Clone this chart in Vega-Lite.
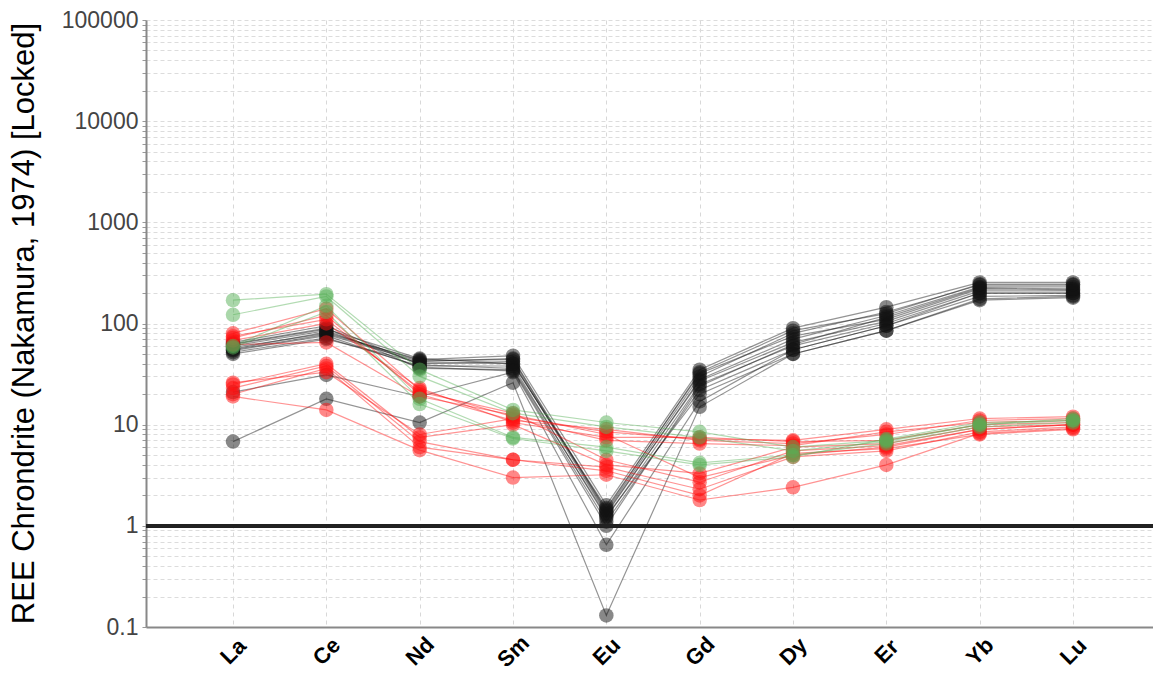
{
  "$schema": "https://vega.github.io/schema/vega-lite/v6.json",
  "autosize": "none",
  "width": 1014,
  "height": 607,
  "padding": {"left": 146, "top": 20, "right": 0, "bottom": 48},
  "background": "white",
  "config": {"view": {"stroke": null}, "font": "Liberation Sans"},
  "datasets": {
    "ree": [
      {"s":"B1","g":"black","el":"La","v":55},{"s":"B1","g":"black","el":"Ce","v":78},{"s":"B1","g":"black","el":"Nd","v":42},{"s":"B1","g":"black","el":"Sm","v":45},{"s":"B1","g":"black","el":"Eu","v":1.4},{"s":"B1","g":"black","el":"Gd","v":30},{"s":"B1","g":"black","el":"Dy","v":80},{"s":"B1","g":"black","el":"Er","v":130},{"s":"B1","g":"black","el":"Yb","v":240},{"s":"B1","g":"black","el":"Lu","v":240},
      {"s":"B2","g":"black","el":"La","v":60},{"s":"B2","g":"black","el":"Ce","v":85},{"s":"B2","g":"black","el":"Nd","v":40},{"s":"B2","g":"black","el":"Sm","v":42},{"s":"B2","g":"black","el":"Eu","v":1.3},{"s":"B2","g":"black","el":"Gd","v":28},{"s":"B2","g":"black","el":"Dy","v":70},{"s":"B2","g":"black","el":"Er","v":120},{"s":"B2","g":"black","el":"Yb","v":230},{"s":"B2","g":"black","el":"Lu","v":230},
      {"s":"B3","g":"black","el":"La","v":52},{"s":"B3","g":"black","el":"Ce","v":72},{"s":"B3","g":"black","el":"Nd","v":38},{"s":"B3","g":"black","el":"Sm","v":38},{"s":"B3","g":"black","el":"Eu","v":1.2},{"s":"B3","g":"black","el":"Gd","v":25},{"s":"B3","g":"black","el":"Dy","v":60},{"s":"B3","g":"black","el":"Er","v":100},{"s":"B3","g":"black","el":"Yb","v":200},{"s":"B3","g":"black","el":"Lu","v":200},
      {"s":"B4","g":"black","el":"La","v":58},{"s":"B4","g":"black","el":"Ce","v":80},{"s":"B4","g":"black","el":"Nd","v":44},{"s":"B4","g":"black","el":"Sm","v":48},{"s":"B4","g":"black","el":"Eu","v":1.6},{"s":"B4","g":"black","el":"Gd","v":35},{"s":"B4","g":"black","el":"Dy","v":90},{"s":"B4","g":"black","el":"Er","v":145},{"s":"B4","g":"black","el":"Yb","v":255},{"s":"B4","g":"black","el":"Lu","v":255},
      {"s":"B5","g":"black","el":"La","v":63},{"s":"B5","g":"black","el":"Ce","v":90},{"s":"B5","g":"black","el":"Nd","v":36},{"s":"B5","g":"black","el":"Sm","v":35},{"s":"B5","g":"black","el":"Eu","v":1.1},{"s":"B5","g":"black","el":"Gd","v":22},{"s":"B5","g":"black","el":"Dy","v":55},{"s":"B5","g":"black","el":"Er","v":95},{"s":"B5","g":"black","el":"Yb","v":185},{"s":"B5","g":"black","el":"Lu","v":190},
      {"s":"B6","g":"black","el":"La","v":50},{"s":"B6","g":"black","el":"Ce","v":70},{"s":"B6","g":"black","el":"Nd","v":41},{"s":"B6","g":"black","el":"Sm","v":40},{"s":"B6","g":"black","el":"Eu","v":1.5},{"s":"B6","g":"black","el":"Gd","v":32},{"s":"B6","g":"black","el":"Dy","v":75},{"s":"B6","g":"black","el":"Er","v":110},{"s":"B6","g":"black","el":"Yb","v":220},{"s":"B6","g":"black","el":"Lu","v":215},
      {"s":"B7","g":"black","el":"La","v":65},{"s":"B7","g":"black","el":"Ce","v":95},{"s":"B7","g":"black","el":"Nd","v":39},{"s":"B7","g":"black","el":"Sm","v":36},{"s":"B7","g":"black","el":"Eu","v":1.25},{"s":"B7","g":"black","el":"Gd","v":20},{"s":"B7","g":"black","el":"Dy","v":50},{"s":"B7","g":"black","el":"Er","v":85},{"s":"B7","g":"black","el":"Yb","v":170},{"s":"B7","g":"black","el":"Lu","v":180},
      {"s":"B8","g":"black","el":"La","v":56},{"s":"B8","g":"black","el":"Ce","v":82},{"s":"B8","g":"black","el":"Nd","v":43},{"s":"B8","g":"black","el":"Sm","v":44},{"s":"B8","g":"black","el":"Eu","v":1.35},{"s":"B8","g":"black","el":"Gd","v":27},{"s":"B8","g":"black","el":"Dy","v":65},{"s":"B8","g":"black","el":"Er","v":105},{"s":"B8","g":"black","el":"Yb","v":210},{"s":"B8","g":"black","el":"Lu","v":210},
      {"s":"B9","g":"black","el":"La","v":21},{"s":"B9","g":"black","el":"Ce","v":31},{"s":"B9","g":"black","el":"Nd","v":19},{"s":"B9","g":"black","el":"Sm","v":33},{"s":"B9","g":"black","el":"Eu","v":0.65},{"s":"B9","g":"black","el":"Gd","v":17},{"s":"B9","g":"black","el":"Dy","v":55},{"s":"B9","g":"black","el":"Er","v":95},{"s":"B9","g":"black","el":"Yb","v":200},{"s":"B9","g":"black","el":"Lu","v":200},
      {"s":"B10","g":"black","el":"La","v":6.8},{"s":"B10","g":"black","el":"Ce","v":18},{"s":"B10","g":"black","el":"Nd","v":10.5},{"s":"B10","g":"black","el":"Sm","v":26},{"s":"B10","g":"black","el":"Eu","v":0.13},{"s":"B10","g":"black","el":"Gd","v":15},{"s":"B10","g":"black","el":"Dy","v":50},{"s":"B10","g":"black","el":"Er","v":85},{"s":"B10","g":"black","el":"Yb","v":175},{"s":"B10","g":"black","el":"Lu","v":185},
      {"s":"B11","g":"black","el":"La","v":54},{"s":"B11","g":"black","el":"Ce","v":76},{"s":"B11","g":"black","el":"Nd","v":37},{"s":"B11","g":"black","el":"Sm","v":34},{"s":"B11","g":"black","el":"Eu","v":1.0},{"s":"B11","g":"black","el":"Gd","v":24},{"s":"B11","g":"black","el":"Dy","v":62},{"s":"B11","g":"black","el":"Er","v":115},{"s":"B11","g":"black","el":"Yb","v":225},{"s":"B11","g":"black","el":"Lu","v":220},
      {"s":"B12","g":"black","el":"La","v":62},{"s":"B12","g":"black","el":"Ce","v":88},{"s":"B12","g":"black","el":"Nd","v":45},{"s":"B12","g":"black","el":"Sm","v":40},{"s":"B12","g":"black","el":"Eu","v":1.45},{"s":"B12","g":"black","el":"Gd","v":33},{"s":"B12","g":"black","el":"Dy","v":85},{"s":"B12","g":"black","el":"Er","v":125},{"s":"B12","g":"black","el":"Yb","v":245},{"s":"B12","g":"black","el":"Lu","v":245},
      {"s":"R1","g":"red","el":"La","v":80},{"s":"R1","g":"red","el":"Ce","v":140},{"s":"R1","g":"red","el":"Nd","v":22},{"s":"R1","g":"red","el":"Sm","v":12},{"s":"R1","g":"red","el":"Eu","v":8.5},{"s":"R1","g":"red","el":"Gd","v":7.2},{"s":"R1","g":"red","el":"Dy","v":7},{"s":"R1","g":"red","el":"Er","v":9},{"s":"R1","g":"red","el":"Yb","v":11.5},{"s":"R1","g":"red","el":"Lu","v":12},
      {"s":"R2","g":"red","el":"La","v":72},{"s":"R2","g":"red","el":"Ce","v":120},{"s":"R2","g":"red","el":"Nd","v":20},{"s":"R2","g":"red","el":"Sm","v":11},{"s":"R2","g":"red","el":"Eu","v":9},{"s":"R2","g":"red","el":"Gd","v":7},{"s":"R2","g":"red","el":"Dy","v":6.5},{"s":"R2","g":"red","el":"Er","v":8},{"s":"R2","g":"red","el":"Yb","v":11},{"s":"R2","g":"red","el":"Lu","v":11.5},
      {"s":"R3","g":"red","el":"La","v":68},{"s":"R3","g":"red","el":"Ce","v":100},{"s":"R3","g":"red","el":"Nd","v":23},{"s":"R3","g":"red","el":"Sm","v":10.5},{"s":"R3","g":"red","el":"Eu","v":7.5},{"s":"R3","g":"red","el":"Gd","v":7.5},{"s":"R3","g":"red","el":"Dy","v":6.8},{"s":"R3","g":"red","el":"Er","v":7},{"s":"R3","g":"red","el":"Yb","v":10},{"s":"R3","g":"red","el":"Lu","v":10.5},
      {"s":"R4","g":"red","el":"La","v":62},{"s":"R4","g":"red","el":"Ce","v":65},{"s":"R4","g":"red","el":"Nd","v":19},{"s":"R4","g":"red","el":"Sm","v":12.5},{"s":"R4","g":"red","el":"Eu","v":8},{"s":"R4","g":"red","el":"Gd","v":3},{"s":"R4","g":"red","el":"Dy","v":5},{"s":"R4","g":"red","el":"Er","v":6},{"s":"R4","g":"red","el":"Yb","v":9},{"s":"R4","g":"red","el":"Lu","v":10},
      {"s":"R5","g":"red","el":"La","v":25},{"s":"R5","g":"red","el":"Ce","v":40},{"s":"R5","g":"red","el":"Nd","v":7.5},{"s":"R5","g":"red","el":"Sm","v":10},{"s":"R5","g":"red","el":"Eu","v":4},{"s":"R5","g":"red","el":"Gd","v":3.3},{"s":"R5","g":"red","el":"Dy","v":6},{"s":"R5","g":"red","el":"Er","v":6.5},{"s":"R5","g":"red","el":"Yb","v":9.5},{"s":"R5","g":"red","el":"Lu","v":10},
      {"s":"R6","g":"red","el":"La","v":23},{"s":"R6","g":"red","el":"Ce","v":38},{"s":"R6","g":"red","el":"Nd","v":6.8},{"s":"R6","g":"red","el":"Sm","v":4.5},{"s":"R6","g":"red","el":"Eu","v":3.8},{"s":"R6","g":"red","el":"Gd","v":2.3},{"s":"R6","g":"red","el":"Dy","v":4.8},{"s":"R6","g":"red","el":"Er","v":5.5},{"s":"R6","g":"red","el":"Yb","v":8.5},{"s":"R6","g":"red","el":"Lu","v":9.5},
      {"s":"R7","g":"red","el":"La","v":20},{"s":"R7","g":"red","el":"Ce","v":36},{"s":"R7","g":"red","el":"Nd","v":6},{"s":"R7","g":"red","el":"Sm","v":4.5},{"s":"R7","g":"red","el":"Eu","v":3.5},{"s":"R7","g":"red","el":"Gd","v":2.0},{"s":"R7","g":"red","el":"Dy","v":5.2},{"s":"R7","g":"red","el":"Er","v":5.8},{"s":"R7","g":"red","el":"Yb","v":8},{"s":"R7","g":"red","el":"Lu","v":9},
      {"s":"R8","g":"red","el":"La","v":19},{"s":"R8","g":"red","el":"Ce","v":14},{"s":"R8","g":"red","el":"Nd","v":5.6},{"s":"R8","g":"red","el":"Sm","v":3},{"s":"R8","g":"red","el":"Eu","v":3.2},{"s":"R8","g":"red","el":"Gd","v":1.8},{"s":"R8","g":"red","el":"Dy","v":2.4},{"s":"R8","g":"red","el":"Er","v":4},{"s":"R8","g":"red","el":"Yb","v":8.2},{"s":"R8","g":"red","el":"Lu","v":9.2},
      {"s":"R9","g":"red","el":"La","v":26},{"s":"R9","g":"red","el":"Ce","v":33},{"s":"R9","g":"red","el":"Nd","v":8},{"s":"R9","g":"red","el":"Sm","v":11.5},{"s":"R9","g":"red","el":"Eu","v":7},{"s":"R9","g":"red","el":"Gd","v":6.5},{"s":"R9","g":"red","el":"Dy","v":6.2},{"s":"R9","g":"red","el":"Er","v":8.5},{"s":"R9","g":"red","el":"Yb","v":10.5},{"s":"R9","g":"red","el":"Lu","v":11},
      {"s":"R10","g":"red","el":"La","v":75},{"s":"R10","g":"red","el":"Ce","v":110},{"s":"R10","g":"red","el":"Nd","v":21},{"s":"R10","g":"red","el":"Sm","v":13},{"s":"R10","g":"red","el":"Eu","v":4.5},{"s":"R10","g":"red","el":"Gd","v":2.7},{"s":"R10","g":"red","el":"Dy","v":5.5},{"s":"R10","g":"red","el":"Er","v":6.2},{"s":"R10","g":"red","el":"Yb","v":9},{"s":"R10","g":"red","el":"Lu","v":10},
      {"s":"G1","g":"green","el":"La","v":170},{"s":"G1","g":"green","el":"Ce","v":195},{"s":"G1","g":"green","el":"Nd","v":35},{"s":"G1","g":"green","el":"Sm","v":14},{"s":"G1","g":"green","el":"Eu","v":10.5},{"s":"G1","g":"green","el":"Gd","v":8.5},{"s":"G1","g":"green","el":"Dy","v":6},{"s":"G1","g":"green","el":"Er","v":7},{"s":"G1","g":"green","el":"Yb","v":10},{"s":"G1","g":"green","el":"Lu","v":11},
      {"s":"G2","g":"green","el":"La","v":122},{"s":"G2","g":"green","el":"Ce","v":185},{"s":"G2","g":"green","el":"Nd","v":30},{"s":"G2","g":"green","el":"Sm","v":13},{"s":"G2","g":"green","el":"Eu","v":9.5},{"s":"G2","g":"green","el":"Gd","v":7.5},{"s":"G2","g":"green","el":"Dy","v":5.5},{"s":"G2","g":"green","el":"Er","v":6.8},{"s":"G2","g":"green","el":"Yb","v":10},{"s":"G2","g":"green","el":"Lu","v":11.5},
      {"s":"G3","g":"green","el":"La","v":60},{"s":"G3","g":"green","el":"Ce","v":150},{"s":"G3","g":"green","el":"Nd","v":18},{"s":"G3","g":"green","el":"Sm","v":7.5},{"s":"G3","g":"green","el":"Eu","v":6},{"s":"G3","g":"green","el":"Gd","v":4.2},{"s":"G3","g":"green","el":"Dy","v":5},{"s":"G3","g":"green","el":"Er","v":6.5},{"s":"G3","g":"green","el":"Yb","v":9.5},{"s":"G3","g":"green","el":"Lu","v":10.5},
      {"s":"G4","g":"green","el":"La","v":58},{"s":"G4","g":"green","el":"Ce","v":130},{"s":"G4","g":"green","el":"Nd","v":16},{"s":"G4","g":"green","el":"Sm","v":7.3},{"s":"G4","g":"green","el":"Eu","v":5.5},{"s":"G4","g":"green","el":"Gd","v":4.0},{"s":"G4","g":"green","el":"Dy","v":4.8},{"s":"G4","g":"green","el":"Er","v":7.2},{"s":"G4","g":"green","el":"Yb","v":10.5},{"s":"G4","g":"green","el":"Lu","v":11}
    ]
  },
  "data": {"name": "ree"},
  "encoding": {
    "x": {
      "field": "el", "type": "ordinal",
      "scale": {"type": "point", "domain": ["La","Ce","Nd","Sm","Eu","Gd","Dy","Er","Yb","Lu"], "padding": 0.932},
      "axis": {
        "title": null, "labelAngle": -45, "labelAlign": "center", "labelBaseline": "middle",
        "labelPadding": 24, "labelFontSize": 22, "labelFontWeight": "bold", "labelColor": "#000",
        "labelFont": "Liberation Sans", "ticks": false, "domainColor": "#888", "domainWidth": 2,
        "grid": true, "gridColor": "#d8d8d8", "gridDash": [4, 4], "gridWidth": 1
      }
    },
    "y": {
      "field": "v", "type": "quantitative",
      "scale": {"type": "log", "domain": [0.1, 100000], "nice": false},
      "axis": {
        "title": "REE Chrondrite (Nakamura, 1974) [Locked]",
        "titleFontSize": 31, "titleFontWeight": "normal", "titleColor": "#000", "titleFont": "Liberation Sans",
        "titleX": -122, "titleY": 303, "titleBaseline": "middle", "titleAngle": -90,
        "values": [0.1,0.2,0.3,0.4,0.5,0.6,0.7,0.8,0.9,1,2,3,4,5,6,7,8,9,10,20,30,40,50,60,70,80,90,100,200,300,400,500,600,700,800,900,1000,2000,3000,4000,5000,6000,7000,8000,9000,10000,20000,30000,40000,50000,60000,70000,80000,90000,100000],
        "labelExpr": "abs(log(datum.value)/LN10 - round(log(datum.value)/LN10)) < 0.000001 ? format(datum.value, '~g') : ''",
        "labelFontSize": 23, "labelColor": "#444", "labelFont": "Liberation Sans", "labelPadding": 4,
        "tickSize": 4, "tickColor": "#999", "domainColor": "#888", "domainWidth": 2,
        "grid": true, "gridColor": "#dcdcdc", "gridDash": [4, 3], "gridWidth": 1
      }
    }
  },
  "layer": [
    {
      "mark": {"type": "line", "strokeWidth": 1.2, "opacity": 0.45},
      "encoding": {
        "detail": {"field": "s"},
        "color": {"field": "g", "type": "nominal", "scale": {"domain": ["black","red","green"], "range": ["#111111","#ff1010","#55b055"]}, "legend": null}
      }
    },
    {
      "mark": {"type": "circle", "size": 210, "opacity": 0.5},
      "encoding": {
        "color": {"field": "g", "type": "nominal", "scale": {"domain": ["black","red","green"], "range": ["#111111","#ff1010","#55b055"]}, "legend": null}
      }
    },
    {
      "mark": {"type": "rule", "color": "#222", "strokeWidth": 3},
      "encoding": {"y": {"datum": 1}, "x": null}
    }
  ]
}
